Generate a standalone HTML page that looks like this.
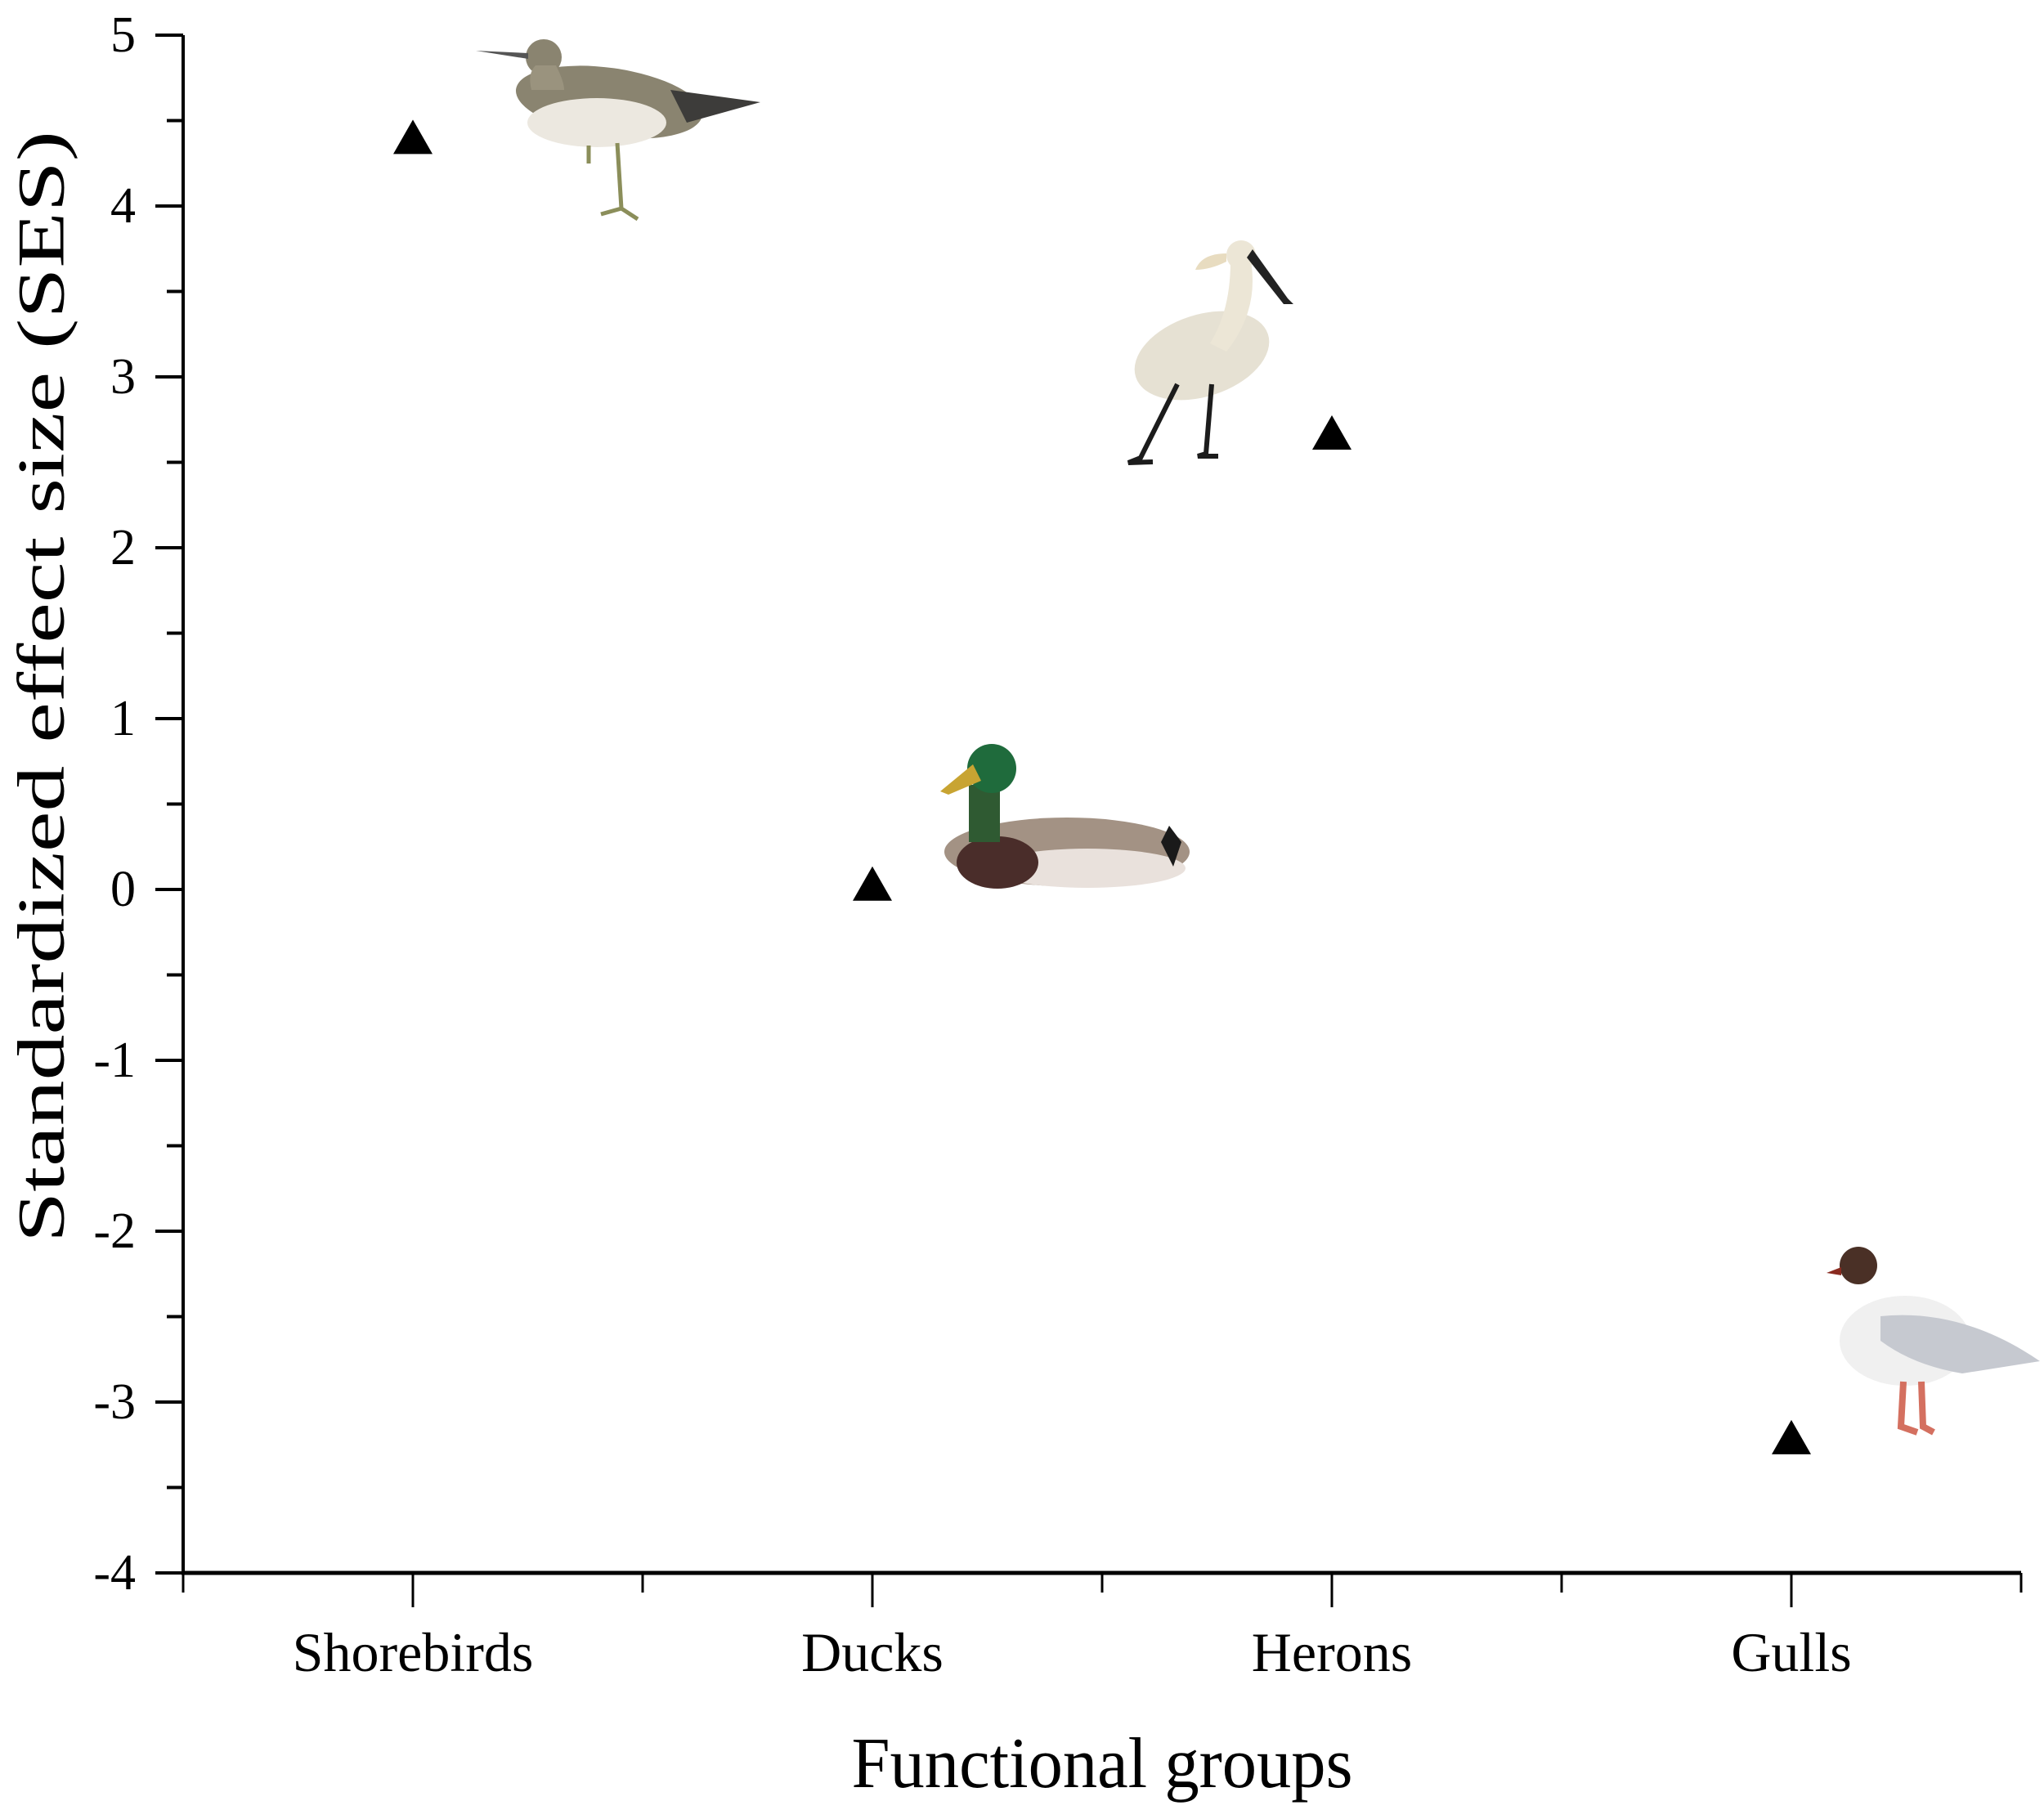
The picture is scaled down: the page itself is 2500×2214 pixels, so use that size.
<!DOCTYPE html>
<html><head><meta charset="utf-8"><style>
html,body{margin:0;padding:0;background:#fff;}
svg{display:block;font-family:"Liberation Serif",serif;}
</style></head><body>
<svg id="chart" width="2500" height="2214" viewBox="0 0 2500 2214">
<g id="axes"></g>
<g id="birds">
  <g>
    <ellipse cx="745" cy="125" rx="115" ry="42" fill="#8a8470" transform="rotate(8 745 125)"/>
    <ellipse cx="730" cy="150" rx="85" ry="30" fill="#ece8e0"/>
    <path d="M820 110 L930 125 L840 150 Z" fill="#3d3c3a"/>
    <circle cx="665" cy="70" r="22" fill="#8a8470"/>
    <path d="M646 65 L582 62 L646 72 Z" fill="#555"/>
    <path d="M680 80 Q690 100 690 110 L650 110 Q645 90 655 80Z" fill="#9a937e"/>
    <path d="M755 175 L760 255 M760 255 L735 262 M760 255 L780 268 M720 178 L720 200" stroke="#8b8e5a" stroke-width="5" fill="none"/>
  </g>
  <g>
    <ellipse cx="1470" cy="435" rx="85" ry="50" fill="#e6e1d3" transform="rotate(-18 1470 435)"/>
    <path d="M1500 430 Q1540 380 1530 320 L1505 320 Q1505 380 1480 420Z" fill="#ece6d6"/>
    <circle cx="1518" cy="312" r="18" fill="#ece6d6"/>
    <path d="M1532 305 L1575 365 L1582 372 L1570 372 L1525 315Z" fill="#222"/>
    <path d="M1500 310 Q1470 310 1462 330 Q1480 330 1500 320Z" fill="#e8dcc0"/>
    <path d="M1440 470 L1395 560 L1380 566 L1410 565 M1482 470 L1475 555 L1465 558 L1490 558" stroke="#1c1c1c" stroke-width="6" fill="none"/>
  </g>
  <g>
    <ellipse cx="1305" cy="1042" rx="150" ry="42" fill="#a39284"/>
    <ellipse cx="1330" cy="1062" rx="120" ry="24" fill="#e9e1dc"/>
    <ellipse cx="1220" cy="1055" rx="50" ry="32" fill="#4a2d2a"/>
    <path d="M1430 1010 L1445 1030 L1435 1060 L1420 1030Z" fill="#1a1a1a"/>
    <rect x="1185" y="960" width="38" height="70" fill="#2f5a32"/>
    <circle cx="1213" cy="940" r="30" fill="#1f6b3c"/>
    <path d="M1190 935 L1150 968 L1160 972 L1200 955Z" fill="#c8a432"/>
  </g>
  <g>
    <ellipse cx="2330" cy="1640" rx="80" ry="55" fill="#f0f0f0"/>
    <path d="M2300 1610 Q2400 1600 2495 1665 L2400 1680 Q2340 1670 2300 1640Z" fill="#c6c9d0"/>
    <circle cx="2273" cy="1548" r="23" fill="#4a3026"/>
    <path d="M2252 1550 L2234 1557 L2252 1560Z" fill="#8a2b20"/>
    <path d="M2328 1690 L2325 1745 L2345 1752 M2350 1690 L2352 1745 L2365 1752" stroke="#d47060" stroke-width="8" fill="none"/>
  </g>
</g>
<g id="marks"></g>
<text x="50" y="840" transform="rotate(-90 50 840)" text-anchor="middle" dominant-baseline="central" font-size="82" textLength="1360" lengthAdjust="spacingAndGlyphs">Standardized effect size (SES)</text>
<text x="1348" y="2186" text-anchor="middle" font-size="88" textLength="613" lengthAdjust="spacingAndGlyphs">Functional groups</text>
</svg>
<script>
const categories = ["Shorebirds","Ducks","Herons","Gulls"];
const sesValues = [4.4, 0.03, 2.67, -3.21];
const yTicks = [5,4,3,2,1,0,-1,-2,-3,-4];
const yTickLabels = ["5","4","3","2","1","0","-1","-2","-3","-4"];

const NS = "http://www.w3.org/2000/svg";
const X0 = 224, X1 = 2472, Y0 = 43, Y1 = 1924;
const yMin = -4, yMax = 5;
function yScale(v){ return Y1 - (v - yMin) / (yMax - yMin) * (Y1 - Y0); }
function xScale(i){ return X0 + (i + 0.5) * (X1 - X0) / categories.length; }
function mk(tag, attrs, parent){ const e = document.createElementNS(NS, tag); for (const k in attrs) e.setAttribute(k, attrs[k]); parent.appendChild(e); return e; }

const axes = document.getElementById("axes");
const yAxis = mk("line", {x1:X0, y1:Y0, x2:X0, y2:Y1+2, stroke:"#000", "stroke-width":4}, axes);


const xAxis = mk("line", {x1:X0-2, y1:Y1, x2:X1, y2:Y1, stroke:"#000", "stroke-width":5}, axes);



yTicks.forEach((v, i) => {
  const y = yScale(v);
  const t = mk("line", {x1:X0-34, y1:y, x2:X0, y2:y, stroke:"#000", "stroke-width":4}, axes);
  
  
  const lb = mk("text", {x:X0-58, y:y, "text-anchor":"end", "dominant-baseline":"central", "font-size":62}, axes);
  lb.textContent = yTickLabels[i];
  
  
  if (i < yTicks.length - 1) {
    const ym = yScale(v - 0.5);
    const m = mk("line", {x1:X0-20, y1:ym, x2:X0, y2:ym, stroke:"#000", "stroke-width":4}, axes);
    
    
  }
});

for (let i = 0; i <= categories.length; i++) {
  const x = X0 + i * (X1 - X0) / categories.length;
  const m = mk("line", {x1:x, y1:Y1, x2:x, y2:Y1+24, stroke:"#000", "stroke-width":3}, axes);
  
  
}
categories.forEach((c, i) => {
  const x = xScale(i);
  const t = mk("line", {x1:x, y1:Y1, x2:x, y2:Y1+42, stroke:"#000", "stroke-width":3}, axes);
  
  
  const lb = mk("text", {x:x, y:2044, "text-anchor":"middle", "font-size":68}, axes);
  lb.textContent = c;
  
  
});

const marks = document.getElementById("marks");
sesValues.forEach((v, i) => {
  const x = xScale(i), y = yScale(v);
  const p = mk("polygon", {points:`${x-24},${y+20} ${x+24},${y+20} ${x},${y-22}`, fill:"#000"}, marks);
  
  
});
</script>
</body></html>
